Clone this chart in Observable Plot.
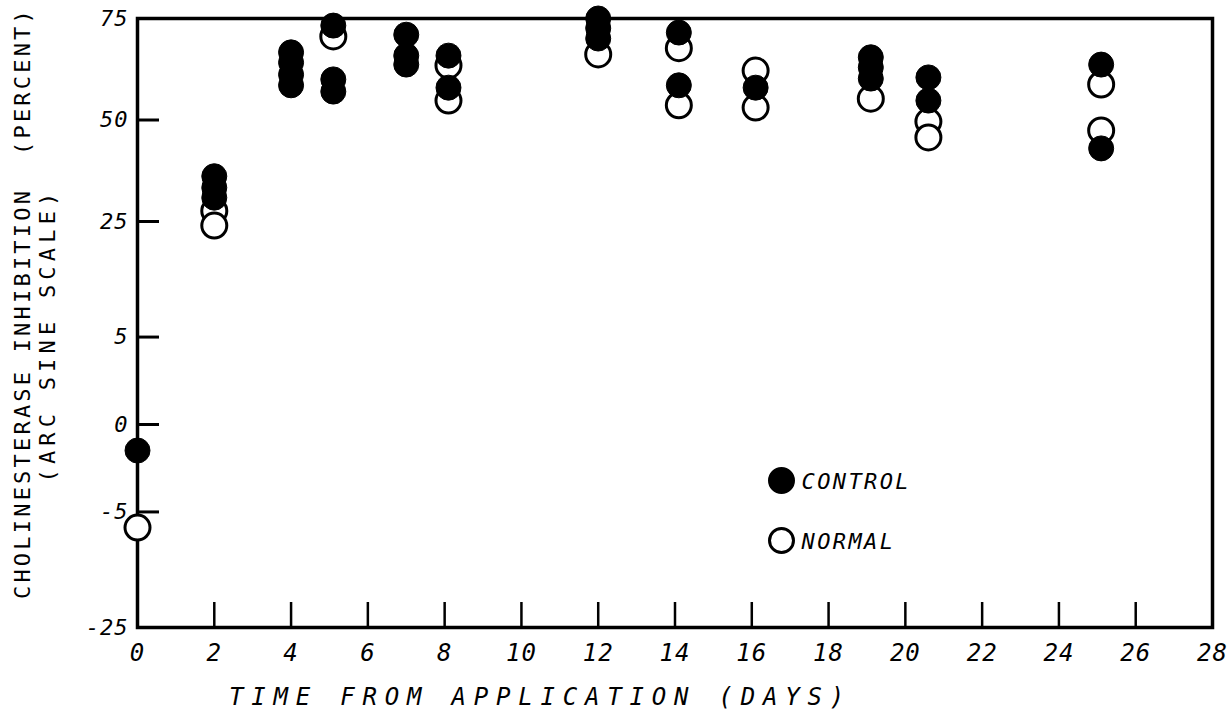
<!DOCTYPE html>
<html>
<head>
<meta charset="utf-8">
<script src="https://cdn.jsdelivr.net/npm/d3@7"></script>
<script src="https://cdn.jsdelivr.net/npm/@observablehq/plot@0.6"></script>
<style>
  html, body { margin: 0; padding: 0; background: #fff; }
  #chart { width: 1229px; height: 718px; }
  .xtitle text { letter-spacing: 7.8px; }
  .ytitle text { letter-spacing: 3.2px; }
  .ytitle2 text { letter-spacing: 5.2px; }
  .legend text { letter-spacing: 2.4px; }
  .ticklab text { letter-spacing: 1px; }
</style>
</head>
<body>
<div id="chart"></div>
<script>
// Sampling days (time from application)
const days = [0, 2, 4, 5.1, 7, 8.1, 12, 14.1, 16.1, 19.1, 20.6, 25.1];

// Cholinesterase inhibition (percent), one list per sampling day
const control = [
  [-0.45],
  [35.7, 32.9, 30.5],
  [67.1, 64.6, 61.6, 58.9],
  [73.4, 60.4, 57.3],
  [71.3, 66.3, 64.1],
  [66.3, 58.3],
  [75.0, 72.8, 70.4],
  [71.8, 58.9],
  [58.3],
  [65.9, 63.4, 60.6],
  [60.9, 55.0],
  [64.1, 42.7]
];
const normal = [
  [-6.9],
  [27.4, 24.1],
  [],
  [70.9],
  [],
  [63.9, 55.0],
  [66.6],
  [68.1, 53.8],
  [62.6, 53.2],
  [55.5],
  [49.6, 45.5],
  [59.1, 47.3]
];

// Axis ticks
const yTicks = [-25, -5, 0, 5, 25, 50, 75];
const xTicks = d3.range(0, 29, 2);
const xTickMarks = d3.range(2, 27, 2);

const legendItems = [
  {label: "CONTROL", fill: "black"},
  {label: "NORMAL", fill: "white"}
];

// Signed arc sine transform of a percentage, in degrees
const asinDeg = p => Math.sign(p) * Math.asin(Math.sqrt(Math.abs(p) / 100)) * 180 / Math.PI;

const toRows = (lists, group) =>
  days.flatMap((day, i) => lists[i].map(pct => ({day, pct, group})));
const controlRows = toRows(control, "CONTROL");
const normalRows = toRows(normal, "NORMAL");

const W = 1229, H = 718;
const margin = {top: 18, right: 17, bottom: 91, left: 137};
const innerW = W - margin.left - margin.right;
const innerH = H - margin.top - margin.bottom;
const R = 12.5;

const font = "'DejaVu Sans Mono', monospace";

const legendMarks = legendItems.flatMap((item, i) => [
  Plot.dot([item], {
    frameAnchor: "top-left", dx: 781 - margin.left, dy: 480 - margin.top + i * 60,
    r: 12, fill: item.fill, stroke: "black", strokeWidth: 3
  }),
  Plot.text([item], {
    frameAnchor: "top-left", dx: 801 - margin.left, dy: 481 - margin.top + i * 60,
    text: "label", textAnchor: "start", lineAnchor: "middle", fontSize: 22, fontStyle: "italic",
    fontFamily: font, fill: "black", className: "legend"
  })
]);

const chart = Plot.plot({
  width: W,
  height: H,
  marginTop: margin.top,
  marginRight: margin.right,
  marginBottom: margin.bottom,
  marginLeft: margin.left,
  style: {fontFamily: font, fontSize: "21px", fontStyle: "italic", background: "white", color: "black", overflow: "visible"},
  x: {type: "linear", domain: [0, 28], axis: null},
  y: {type: "linear", domain: [asinDeg(-25), asinDeg(75)], axis: null},
  marks: [
    // inward tick marks on the left and bottom edges
    Plot.ruleY(yTicks, {y: asinDeg, insetRight: innerW - 22, stroke: "black", strokeWidth: 3}),
    Plot.ruleX(xTickMarks, {x: d => d, insetTop: innerH - 25, stroke: "black", strokeWidth: 2.5}),
    Plot.frame({stroke: "black", strokeWidth: 3.5}),
    // tick labels (percent values on the arc sine scale, days along the bottom)
    Plot.text(yTicks, {
      y: asinDeg, text: d => String(d), frameAnchor: "left", dx: -9,
      textAnchor: "end", lineAnchor: "middle", fontSize: 22, fontStyle: "italic",
      fontFamily: font, fill: "black", className: "ticklab"
    }),
    Plot.text(xTicks, {
      x: d => d, text: d => String(d), frameAnchor: "bottom", dy: 16,
      textAnchor: "middle", lineAnchor: "top", fontSize: 24, fontStyle: "italic",
      fontFamily: font, fill: "black", className: "ticklab"
    }),
    // normal (open) first, control (filled) drawn on top
    Plot.dot(normalRows, {x: "day", y: d => asinDeg(d.pct), r: R, fill: "white", stroke: "black", strokeWidth: 3}),
    Plot.dot(controlRows, {x: "day", y: d => asinDeg(d.pct), r: R, fill: "black", stroke: "black", strokeWidth: 1}),
    ...legendMarks,
    Plot.text(["TIME FROM APPLICATION (DAYS)"], {
      frameAnchor: "bottom-left", dx: 540 - margin.left, dy: 70,
      textAnchor: "middle", lineAnchor: "middle", fontSize: 24, fontStyle: "italic",
      fontFamily: font, fill: "black", className: "xtitle"
    }),
    Plot.text(["CHOLINESTERASE INHIBITION  (PERCENT)"], {
      frameAnchor: "left", dx: 22 - margin.left, dy: -20, rotate: -90,
      textAnchor: "middle", lineAnchor: "middle", fontSize: 22, fontStyle: "normal",
      fontFamily: font, fill: "black", className: "ytitle"
    }),
    Plot.text(["(ARC SINE SCALE)"], {
      frameAnchor: "left", dx: 47 - margin.left, dy: 12, rotate: -90,
      textAnchor: "middle", lineAnchor: "middle", fontSize: 22, fontStyle: "normal",
      fontFamily: font, fill: "black", className: "ytitle2"
    })
  ]
});

document.getElementById("chart").appendChild(chart);
</script>
</body>
</html>
